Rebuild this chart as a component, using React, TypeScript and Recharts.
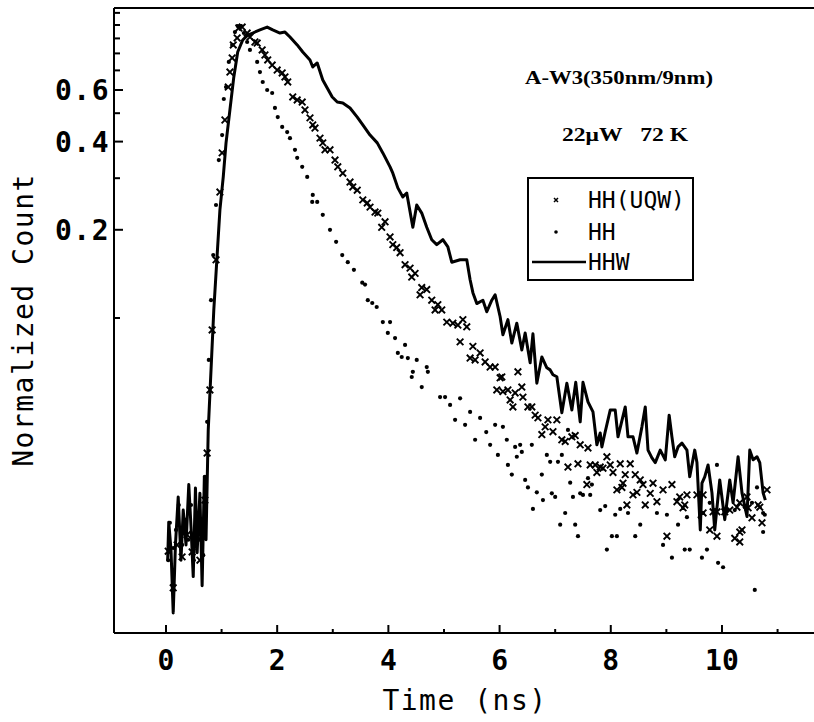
import React from 'react';
import { ComposedChart, Line, Scatter, XAxis, YAxis, Legend } from 'recharts';

// ---- HHW (solid line) ----
const hhwTime = [0.03,0.05,0.09,0.13,0.17,0.22,0.27,0.31,0.36,0.41,0.45,0.49,0.53,0.56,0.61,0.65,0.69,0.72,0.76,0.81,0.86,0.92,0.97,1.03,1.08,1.15,1.22,1.29,1.38,1.47,1.56,1.69,1.82,1.92,2.05,2.14,2.23,2.36,2.46,2.59,2.64,2.72,2.82,2.99,3.08,3.18,3.31,3.44,3.54,3.67,3.80,3.90,4.03,4.08,4.17,4.26,4.33,4.44,4.51,4.60,4.69,4.78,4.87,4.98,5.07,5.14,5.29,5.41,5.47,5.52,5.59,5.70,5.77,5.86,5.92,6.01,6.06,6.15,6.22,6.31,6.40,6.46,6.55,6.60,6.67,6.76,6.85,6.91,6.96,7.03,7.12,7.21,7.30,7.37,7.45,7.50,7.59,7.68,7.75,7.81,7.84,7.90,7.99,8.08,8.13,8.26,8.31,8.40,8.47,8.56,8.62,8.67,8.74,8.80,8.89,8.98,9.05,9.10,9.15,9.21,9.28,9.37,9.42,9.51,9.55,9.61,9.64,9.69,9.75,9.82,9.87,9.96,10.05,10.14,10.20,10.29,10.36,10.45,10.50,10.56,10.63,10.68,10.74,10.78];
const hhwCount = [0.0149,0.0201,0.0162,0.00985,0.0168,0.0245,0.0149,0.0221,0.0168,0.0270,0.0194,0.0131,0.0263,0.0158,0.0252,0.0122,0.0287,0.0175,0.0415,0.0665,0.1065,0.164,0.234,0.303,0.396,0.513,0.665,0.809,0.889,0.924,0.939,0.962,0.984,0.962,0.939,0.946,0.910,0.855,0.809,0.760,0.719,0.742,0.649,0.568,0.546,0.542,0.521,0.485,0.456,0.421,0.396,0.366,0.328,0.312,0.278,0.259,0.267,0.204,0.243,0.228,0.204,0.185,0.178,0.185,0.175,0.155,0.158,0.158,0.135,0.122,0.112,0.115,0.105,0.115,0.120,0.101,0.0877,0.0987,0.0821,0.0960,0.0778,0.0889,0.0703,0.0883,0.0599,0.0736,0.0676,0.0665,0.0640,0.0630,0.0475,0.0599,0.0485,0.0603,0.0442,0.0603,0.0517,0.0478,0.0369,0.0405,0.0363,0.0409,0.0485,0.0485,0.0393,0.0497,0.0393,0.0393,0.0346,0.0425,0.0497,0.0354,0.0333,0.0321,0.0354,0.0328,0.0466,0.0393,0.0336,0.0363,0.0374,0.0354,0.0287,0.0354,0.0321,0.0189,0.0273,0.0287,0.0315,0.0253,0.0189,0.0280,0.0205,0.0280,0.0234,0.0336,0.0253,0.0210,0.0354,0.0328,0.0336,0.0321,0.0253,0.0239];

// ---- HH(UQW) (crosses) ----
const uqwTime = [0.04,0.13,0.20,0.29,0.38,0.47,0.54,0.61,0.70,0.74,0.79,0.83,0.90,0.97,1.01,1.06,1.12,1.15,1.19,1.21,1.28,1.31,1.37,1.46,1.51,1.60,1.64,1.73,1.78,1.83,1.91,2.00,2.09,2.14,2.19,2.28,2.36,2.45,2.50,2.59,2.64,2.68,2.77,2.82,2.86,2.95,3.04,3.09,3.18,3.31,3.36,3.44,3.54,3.62,3.67,3.76,3.81,3.88,3.94,4.03,4.08,4.15,4.21,4.30,4.39,4.42,4.48,4.57,4.60,4.69,4.78,4.84,4.89,4.96,5.05,5.16,5.25,5.29,5.34,5.41,5.47,5.52,5.56,5.65,5.74,5.83,5.92,5.95,6.01,6.04,6.06,6.15,6.19,6.24,6.28,6.33,6.40,6.42,6.51,6.58,6.64,6.69,6.76,6.82,6.87,6.96,7.03,7.12,7.18,7.23,7.30,7.36,7.41,7.45,7.57,7.59,7.63,7.72,7.75,7.81,7.86,7.93,7.99,8.04,8.11,8.17,8.20,8.22,8.26,8.29,8.35,8.40,8.44,8.47,8.53,8.58,8.62,8.71,8.76,8.83,8.94,9.01,9.10,9.19,9.24,9.30,9.33,9.37,9.55,9.66,9.66,9.78,9.84,9.91,9.91,10.05,10.14,10.23,10.27,10.32,10.32,10.32,10.36,10.45,10.47,10.54,10.65,10.68,10.72,10.81];
const uqwCount = [0.0160,0.0120,0.0168,0.0153,0.0182,0.0159,0.0182,0.0149,0.0239,0.0346,0.0568,0.0910,0.158,0.269,0.366,0.474,0.614,0.691,0.772,0.855,0.903,0.977,0.984,0.939,0.910,0.875,0.868,0.822,0.790,0.760,0.730,0.702,0.686,0.665,0.639,0.568,0.555,0.546,0.513,0.482,0.456,0.445,0.411,0.396,0.375,0.375,0.346,0.328,0.312,0.291,0.280,0.273,0.253,0.247,0.239,0.230,0.228,0.204,0.213,0.189,0.178,0.174,0.167,0.152,0.148,0.138,0.142,0.120,0.127,0.125,0.115,0.1065,0.111,0.1065,0.0968,0.0960,0.0946,0.0829,0.0987,0.0933,0.0730,0.0800,0.0719,0.0760,0.0708,0.0680,0.0680,0.0568,0.0625,0.0629,0.0561,0.0568,0.0525,0.0497,0.0555,0.0655,0.0581,0.0537,0.0497,0.0497,0.0466,0.0456,0.0400,0.0425,0.0449,0.0409,0.0449,0.0384,0.0379,0.0310,0.0393,0.0397,0.0318,0.0369,0.0270,0.0360,0.0315,0.0315,0.0297,0.0310,0.0307,0.0336,0.0315,0.0297,0.0259,0.0318,0.0264,0.0273,0.0292,0.0230,0.0318,0.0249,0.0292,0.0254,0.0280,0.0270,0.0230,0.0252,0.0273,0.0236,0.0259,0.0180,0.0270,0.0236,0.0245,0.0225,0.0230,0.0249,0.0249,0.0249,0.0216,0.0189,0.0218,0.0218,0.0180,0.0218,0.0221,0.0177,0.0226,0.0234,0.0186,0.0172,0.0189,0.0245,0.0225,0.0208,0.0230,0.0226,0.0200,0.0259];

// ---- HH (dots) ----
const hhTime = [0.04,0.07,0.13,0.18,0.23,0.29,0.34,0.40,0.45,0.50,0.56,0.61,0.67,0.70,0.74,0.77,0.81,0.85,0.90,0.95,1.01,1.04,1.08,1.13,1.19,1.24,1.29,1.35,1.40,1.46,1.51,1.64,1.69,1.74,1.82,1.91,1.96,2.01,2.09,2.18,2.23,2.32,2.36,2.45,2.54,2.63,2.64,2.72,2.82,2.95,3.06,3.17,3.27,3.38,3.53,3.58,3.63,3.71,3.79,3.90,3.99,4.03,4.12,4.17,4.24,4.30,4.35,4.42,4.44,4.51,4.60,4.69,4.71,4.93,5.02,5.11,5.20,5.29,5.38,5.47,5.56,5.65,5.76,5.83,5.92,5.97,6.06,6.13,6.15,6.22,6.28,6.31,6.37,6.40,6.46,6.51,6.58,6.60,6.67,6.76,6.78,6.85,6.91,6.94,7.00,7.05,7.09,7.12,7.18,7.23,7.27,7.32,7.36,7.41,7.45,7.50,7.59,7.63,7.66,7.81,7.90,7.93,8.02,8.08,8.11,8.17,8.31,8.44,8.53,8.83,8.94,9.01,9.10,9.21,9.33,9.37,9.42,9.60,9.64,9.66,9.73,9.78,9.91,9.93,10.02,10.09,10.23,10.41,10.54,10.59,10.63,10.74,10.74,10.77];
const hhCount = [0.0149,0.0200,0.0164,0.0189,0.0230,0.0168,0.0205,0.0175,0.0230,0.0149,0.0213,0.0175,0.0155,0.0287,0.0442,0.0719,0.115,0.164,0.243,0.346,0.421,0.559,0.614,0.748,0.855,0.946,0.992,0.992,0.939,0.875,0.822,0.748,0.691,0.639,0.600,0.586,0.521,0.485,0.449,0.431,0.411,0.375,0.352,0.328,0.303,0.249,0.263,0.249,0.225,0.200,0.182,0.164,0.155,0.146,0.132,0.130,0.115,0.1125,0.109,0.0968,0.0889,0.0968,0.0854,0.0760,0.0736,0.0809,0.0730,0.0629,0.0655,0.0719,0.0581,0.0680,0.0655,0.0537,0.0537,0.0505,0.0449,0.0532,0.0432,0.0478,0.0384,0.0456,0.0408,0.0369,0.0432,0.0341,0.0425,0.0384,0.0315,0.0292,0.0363,0.0336,0.0369,0.0349,0.0280,0.0264,0.0369,0.0223,0.0254,0.0292,0.0239,0.0341,0.0323,0.0252,0.0245,0.0323,0.0197,0.0341,0.0216,0.0415,0.0274,0.0245,0.0197,0.0180,0.0252,0.0249,0.0284,0.0249,0.0270,0.0221,0.0228,0.0162,0.0180,0.0213,0.0180,0.0223,0.0216,0.0180,0.0197,0.0216,0.0168,0.0213,0.0152,0.0197,0.0162,0.0209,0.0162,0.0209,0.0152,0.0216,0.0162,0.0234,0.0315,0.0146,0.0141,0.0221,0.0221,0.0226,0.0234,0.0118,0.0264,0.0216,0.0186,0.0213];

const seriesNames = ['HH(UQW)', 'HH', 'HHW'];
const xTicks = [0, 1, 2, 3, 4, 5, 6, 7, 8, 9, 10, 11];
const xLabelTicks = [0, 2, 4, 6, 8, 10];
const yTicks = [0.1, 0.2, 0.3, 0.4, 0.5, 0.6, 0.7, 0.8, 0.9, 1.0, 1.1];
const yLabelTicks = [0.2, 0.4, 0.6];
const xDomain = [-0.935, 11.943];
const yDomain = [0.00841, 1.143];
const titleText = 'A-W3(350nm/9nm)';
const subtitleText = '22\u03bcW\u00a0\u00a0\u00a072\u00a0K';
const xTitle = 'Time (ns)';
const yTitle = 'Normalized Count';

const zip = (ts: number[], vs: number[]) => ts.map((t, i) => ({ t, v: vs[i] }));
const hhwData = zip(hhwTime, hhwCount);
const uqwData = zip(uqwTime, uqwCount);
const hhData = zip(hhTime, hhCount);

const CHART_W = 845;
const CHART_H = 722;
const MARGIN = { top: 7, right: 15, bottom: 29, left: 14 };
const Y_AXIS_W = 100;

const MONO = '"DejaVu Sans Mono", monospace';
const SERIF = '"Liberation Serif", "Times New Roman", serif';
const isIn = (arr: number[], v: number) => arr.some((a) => Math.abs(a - v) < 1e-9);

const BottomTick = (p: any) => {
  const { x, y, payload } = p;
  const major = isIn(xLabelTicks, payload.value);
  return (
    <g>
      <line x1={x} x2={x} y1={y} y2={y - (major ? 8 : 4)} stroke="#000" strokeWidth={2} />
      {major && (
        <text x={x} y={y + 37} textAnchor="middle" fontFamily={MONO} fontWeight="bold" fontSize={28} fill="#000">
          {payload.value}
        </text>
      )}
    </g>
  );
};

const TopTick = (p: any) => {
  const { x, y, payload } = p;
  const major = isIn(xLabelTicks, payload.value);
  return <line x1={x} x2={x} y1={y} y2={y + (major ? 8 : 4)} stroke="#000" strokeWidth={2} />;
};

const LeftTick = (p: any) => {
  const { x, y, payload } = p;
  const major = isIn(yLabelTicks, payload.value);
  const len = major ? 9 : 6;
  return (
    <g>
      <line x1={x} x2={x + len} y1={y} y2={y} stroke="#000" strokeWidth={2} />
      {major && (
        <text x={x - 4} y={y + 10} textAnchor="end" fontFamily={MONO} fontWeight="bold" fontSize={28} letterSpacing={1.5} fill="#000">
          {payload.value.toFixed(1)}
        </text>
      )}
    </g>
  );
};

const CrossShape = (p: any) => {
  const { cx, cy } = p;
  if (cx == null || cy == null) return <g />;
  const s = 3.3;
  return (
    <path
      d={`M${cx - s},${cy - s}L${cx + s},${cy + s}M${cx - s},${cy + s}L${cx + s},${cy - s}`}
      stroke="#000"
      strokeWidth={1.9}
      fill="none"
    />
  );
};

const DotShape = (p: any) => {
  const { cx, cy } = p;
  if (cx == null || cy == null) return <g />;
  return <circle cx={cx} cy={cy} r={2.1} fill="#000" />;
};

const LegendBox = () => (
  <svg width={168} height={106} style={{ display: 'block' }}>
    <rect x={1} y={1} width={165} height={102} fill="#fff" stroke="#000" strokeWidth={2} />
    <path d="M27,21L31,25M27,25L31,21" stroke="#000" strokeWidth={1.5} />
    <text x={61} y={31} fontFamily={MONO} fontSize={23} fill="#000">{seriesNames[0]}</text>
    <circle cx={29} cy={55} r={1.8} fill="#000" />
    <text x={61} y={63} fontFamily={MONO} fontSize={23} fill="#000">{seriesNames[1]}</text>
    <line x1={5} x2={59} y1={85} y2={85} stroke="#000" strokeWidth={2.5} />
    <text x={61} y={93} fontFamily={MONO} fontSize={23} fill="#000">{seriesNames[2]}</text>
  </svg>
);

export default function App() {
  return (
    <div style={{ position: 'absolute', left: 0, top: 0, width: 814, height: 722, overflow: 'hidden', background: '#fff' }}>
      <ComposedChart width={CHART_W} height={CHART_H} margin={MARGIN}>
        <XAxis
          dataKey="t"
          type="number"
          domain={xDomain}
          allowDataOverflow
          ticks={xTicks}
          interval={0}
          height={60}
          tickSize={0}
          tickMargin={0}
          tick={BottomTick}
          axisLine={{ stroke: '#000', strokeWidth: 2 }}
          tickLine={false}
        />
        <XAxis
          xAxisId="top"
          orientation="top"
          type="number"
          domain={xDomain}
          allowDataOverflow
          ticks={xTicks}
          interval={0}
          height={1}
          tickSize={0}
          tickMargin={0}
          tick={TopTick}
          axisLine={{ stroke: '#000', strokeWidth: 2 }}
          tickLine={false}
        />
        <YAxis
          dataKey="v"
          type="number"
          scale="log"
          domain={yDomain}
          allowDataOverflow
          ticks={yTicks}
          interval={0}
          width={Y_AXIS_W}
          tickSize={0}
          tickMargin={0}
          tick={LeftTick}
          axisLine={{ stroke: '#000', strokeWidth: 2 }}
          tickLine={false}
        />
        <Line
          data={hhwData}
          dataKey="v"
          name={seriesNames[2]}
          type="linear"
          stroke="#000"
          strokeWidth={3}
          strokeLinejoin="round"
          dot={false}
          activeDot={false}
          isAnimationActive={false}
        />
        <Scatter data={uqwData} dataKey="v" name={seriesNames[0]} shape={CrossShape} isAnimationActive={false} />
        <Scatter data={hhData} dataKey="v" name={seriesNames[1]} shape={DotShape} isAnimationActive={false} />
        <Legend
          layout="horizontal"
          verticalAlign="middle"
          align="center"
          wrapperStyle={{ position: 'absolute', left: 527, top: 177, width: 168, height: 106 }}
          content={() => <LegendBox />}
        />
      </ComposedChart>
      <svg width={814} height={722} style={{ position: 'absolute', left: 0, top: 0, pointerEvents: 'none' }}>
        <text x={619} y={84} textAnchor="middle" fontFamily={SERIF} fontWeight="bold" fontSize={19} textLength={188} lengthAdjust="spacingAndGlyphs" fill="#000">
          {titleText}
        </text>
        <text x={625} y={141} textAnchor="middle" fontFamily={SERIF} fontWeight="bold" fontSize={19} textLength={126} lengthAdjust="spacingAndGlyphs" fill="#000">
          {subtitleText}
        </text>
        <text x={465} y={710} textAnchor="middle" fontFamily={MONO} fontSize={28} letterSpacing={1.5} fill="#000">
          {xTitle}
        </text>
        <text transform="translate(33,320) rotate(-90)" textAnchor="middle" fontFamily={MONO} fontSize={28} letterSpacing={1.5} fill="#000">
          {yTitle}
        </text>
      </svg>
    </div>
  );
}
